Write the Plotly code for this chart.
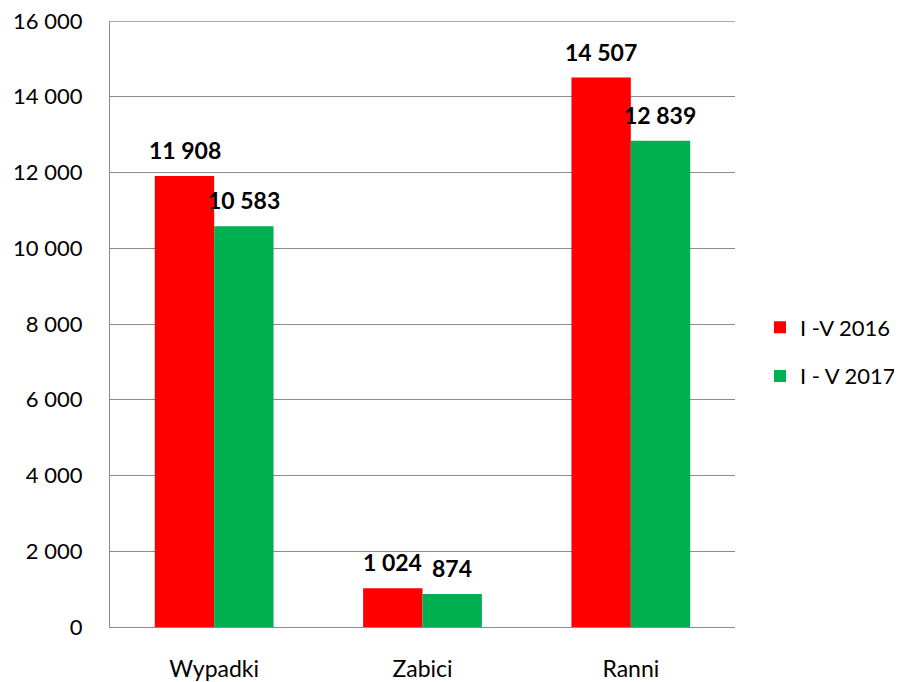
import plotly.graph_objects as go

categories = ["Wypadki", "Zabici", "Ranni"]
series_names = ["I -V 2016", "I - V 2017"]
values_2016 = [11908, 1024, 14507]
values_2017 = [10583, 874, 12839]
y_ticks = [0, 2000, 4000, 6000, 8000, 10000, 12000, 14000, 16000]

FONT = "Lato, 'Open Sans', sans-serif"
FS = 23
COLORS = ["#FF0000", "#00B050"]
GRID = "#8C8C8C"
W, H = 894, 674  # page has an 8px body offset


def fmt(v):
    return f"{v:,d}".replace(",", " ")


fig = go.Figure()
for i, (name, vals) in enumerate(zip(series_names, [values_2016, values_2017])):
    fig.add_trace(go.Bar(
        x=categories, y=vals, name=name,
        marker=dict(color=COLORS[i], line=dict(width=0)),
        legendgroup=f"g{i}",
    ))
    shift = -29.6 if i == 0 else 29.6
    for c, v in zip(categories, vals):
        fig.add_annotation(
            x=c, y=v, xref="x", yref="y", text=fmt(v),
            showarrow=False, xanchor="center", yanchor="middle",
            xshift=shift, yshift=26,
            font=dict(family=FONT, size=FS, color="#000000", weight="bold"),
        )

# top gridline (Plotly omits the gridline lying on the plot edge)
fig.add_shape(
    type="line", xref="paper", yref="y", x0=0, x1=1,
    y0=y_ticks[-1], y1=y_ticks[-1],
    line=dict(color=GRID, width=1.3), layer="below",
)

fig.update_layout(
    width=W, height=H,
    margin=dict(l=102, r=167, t=13, b=55, autoexpand=False),
    paper_bgcolor="white", plot_bgcolor="white",
    separators=", ",
    barmode="group", bargap=0.43, bargroupgap=0,
    font=dict(family=FONT, size=FS, color="#000000"),
    legend=dict(
        xref="container", yref="container",
        x=752 / W, y=1 - 344 / H, xanchor="left", yanchor="middle",
        traceorder="grouped", tracegroupgap=17,
        font=dict(family=FONT, size=22, color="#000000"),
        itemwidth=30, bgcolor="rgba(0,0,0,0)",
    ),
    showlegend=True,
)
fig.update_yaxes(
    range=[0, 16000], tickvals=y_ticks, tickformat=",d",
    showgrid=True, gridcolor=GRID, gridwidth=1.3,
    showline=True, linecolor=GRID, linewidth=1.3,
    ticks="", ticklabelstandoff=22, zeroline=False, automargin=False,
    ticklabeloverflow="allow",
    tickfont=dict(family=FONT, size=22, color="#000000"),
)
fig.update_xaxes(
    showline=True, linecolor=GRID, linewidth=1.3,
    ticks="", ticklabelstandoff=21, automargin=False,
    tickfont=dict(family=FONT, size=FS, color="#000000"),
)

fig.write_html("out.html")
